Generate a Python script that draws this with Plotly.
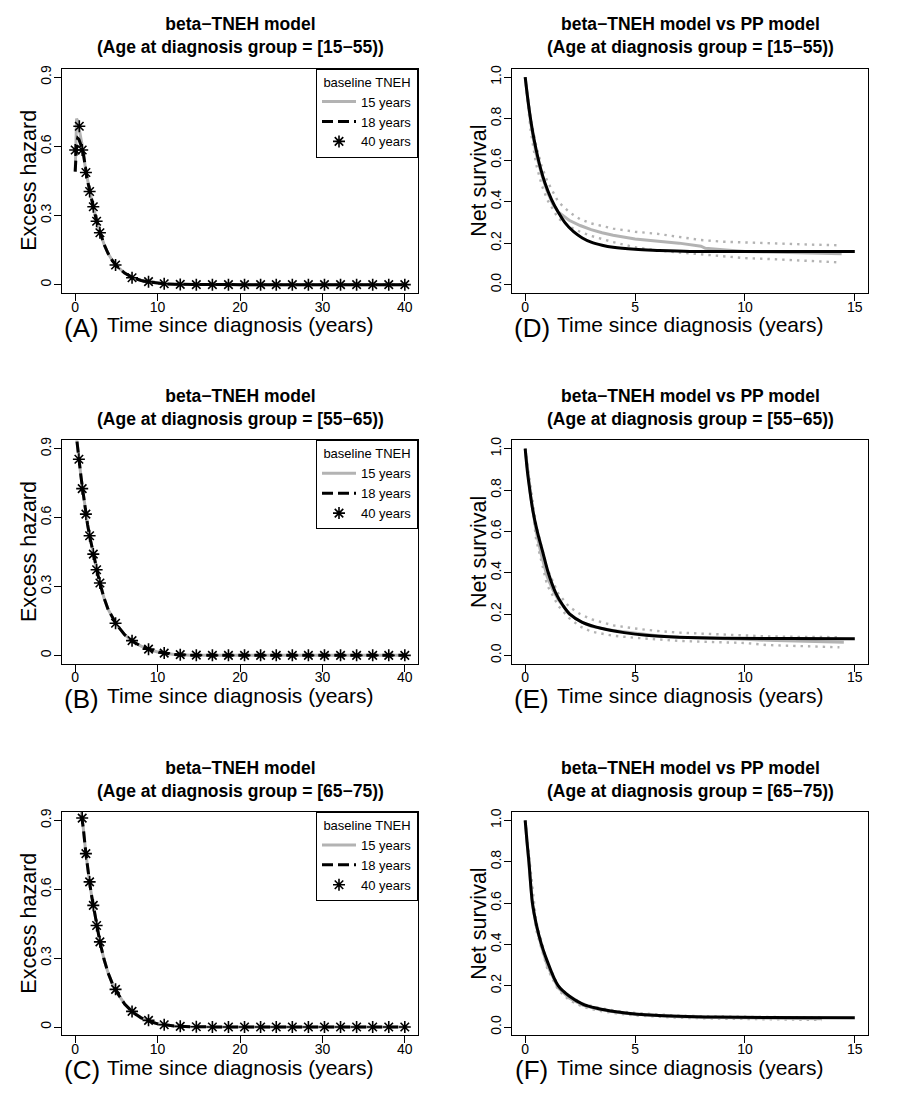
#!/usr/bin/env python3
"""
beta-TNEH model: excess hazard (A-C) and net survival vs PP model (D-F)
"""

import plotly.graph_objects as go
from plotly.subplots import make_subplots

FIG_W = 899
FIG_H = 1117
FONT = "Liberation Sans, Arial, Helvetica, sans-serif"
GRAY = "#b3b3b3"

AGE_GROUPS = ["[15−55)", "[55−65)", "[65−75)"]
HAZ_LETTERS = ["(A)", "(B)", "(C)"]
SURV_LETTERS = ["(D)", "(E)", "(F)"]
LEGEND_LABELS = ["15 years", "18 years", "40 years"]

# ---- excess hazard ----
haz_xticks = [0, 10, 20, 30, 40]
haz_yticks = [0, 0.3, 0.6, 0.9]
haz_yticktext = ["0", "0.3", "0.6", "0.9"]

# panel A  [15-55)
t_a15 = [0, 0.05, 0.1, 0.17, 0.3, 0.5, 0.75, 1.0, 1.25, 1.5, 1.75, 2.0, 2.25, 2.5,
         2.75, 3.0, 3.5, 4.0, 4.5, 5.0, 6.0, 7.0, 8.0, 9.0, 10, 11, 12, 14, 16, 20,
         25, 30, 35, 40]
h_a15 = [0.49, 0.6, 0.68, 0.72, 0.71, 0.67, 0.63, 0.575, 0.5, 0.45, 0.41, 0.365, 0.33,
         0.29, 0.258, 0.228, 0.175, 0.135, 0.105, 0.082, 0.05, 0.03, 0.018, 0.011,
         0.006, 0.003, 0.0015, 0.0005, 0, 0, 0, 0, 0, 0]
t_a18 = [0, 0.05, 0.1, 0.2, 0.3, 0.45, 0.6, 0.8, 1.0, 1.25, 1.5, 1.75, 2.0, 2.25, 2.5,
         2.75, 3.0, 3.5, 4.0, 4.5, 5.0, 6.0, 7.0, 8.0, 9.0, 10, 11, 12, 14, 16, 20,
         25, 30, 35, 40]
h_a18 = [0.49, 0.53, 0.57, 0.62, 0.635, 0.63, 0.615, 0.595, 0.565, 0.5, 0.45, 0.41,
         0.365, 0.33, 0.29, 0.258, 0.228, 0.175, 0.135, 0.105, 0.082, 0.05, 0.03,
         0.018, 0.011, 0.006, 0.003, 0.0015, 0.0005, 0, 0, 0, 0, 0, 0]
t_a40 = [0, 0.5, 0.85, 1.3, 1.75, 2.2, 2.6, 3.0, 4.9, 6.9, 8.9, 10.8, 12.75, 14.7,
         16.65, 18.6, 20.55, 22.5, 24.4, 26.35, 28.3, 30.25, 32.2, 34.15, 36.1, 38.05, 40]
h_a40 = [0.584, 0.687, 0.584, 0.486, 0.404, 0.338, 0.275, 0.225, 0.085, 0.030, 0.013,
         0.004, 0.001, 0, 0, 0, 0, 0, 0, 0, 0, 0, 0, 0, 0, 0, 0]

# panel B  [55-65)  (15 and 18 year baselines overlap)
t_b = [0, 0.2, 0.45, 0.7, 0.9, 1.1, 1.3, 1.5, 1.75, 2.0, 2.2, 2.4, 2.6, 2.8, 3.0, 3.5,
       4.0, 4.5, 5.0, 6.0, 7.0, 8.0, 9.0, 10, 11, 12, 14, 16, 20, 30, 40]
h_b = [1.0, 0.93, 0.85, 0.78, 0.725, 0.67, 0.615, 0.57, 0.52, 0.475, 0.44, 0.405,
       0.373, 0.345, 0.315, 0.25, 0.2, 0.165, 0.135, 0.09, 0.06, 0.04, 0.025, 0.015,
       0.008, 0.004, 0.001, 0, 0, 0, 0]
t_b40 = [0.45, 0.85, 1.3, 1.75, 2.2, 2.6, 3.0, 4.9, 6.9, 8.9, 10.8, 12.75, 14.7,
         16.65, 18.6, 20.55, 22.5, 24.4, 26.35, 28.3, 30.25, 32.2, 34.15, 36.1, 38.05, 40]
h_b40 = [0.854, 0.726, 0.615, 0.521, 0.441, 0.373, 0.315, 0.140, 0.064, 0.027, 0.010,
         0.003, 0.001, 0, 0, 0, 0, 0, 0, 0, 0, 0, 0, 0, 0, 0]

# panel C  [65-75)
t_c = [0.55, 0.7, 0.85, 1.0, 1.3, 1.5, 1.75, 2.0, 2.2, 2.4, 2.6, 2.8, 3.0, 3.5, 4.0,
       4.5, 5.0, 6.0, 7.0, 8.0, 9.0, 10, 11, 12, 14, 16, 20, 30, 40]
h_c = [0.99, 0.95, 0.905, 0.86, 0.755, 0.69, 0.63, 0.57, 0.53, 0.49, 0.445, 0.405,
       0.37, 0.295, 0.235, 0.19, 0.155, 0.1, 0.064, 0.04, 0.025, 0.014, 0.008, 0.004,
       0.001, 0, 0, 0, 0]
t_c40 = [0.85, 1.3, 1.75, 2.2, 2.6, 3.0, 4.9, 6.9, 8.9, 10.8, 12.75, 14.7, 16.65,
         18.6, 20.55, 22.5, 24.4, 26.35, 28.3, 30.25, 32.2, 34.15, 36.1, 38.05, 40]
h_c40 = [0.91, 0.755, 0.632, 0.530, 0.442, 0.371, 0.164, 0.068, 0.029, 0.010, 0.003,
         0.001, 0, 0, 0, 0, 0, 0, 0, 0, 0, 0, 0, 0, 0]

# ---- net survival ----
surv_xticks = [0, 5, 10, 15]
surv_yticks = [0, 0.2, 0.4, 0.6, 0.8, 1.0]
surv_yticktext = ["0.0", "0.2", "0.4", "0.6", "0.8", "1.0"]

# panel D
t_d_mod = [0, 0.1, 0.2, 0.35, 0.5, 0.7, 0.9, 1.2, 1.5, 1.8, 2.2, 2.6, 3.0, 3.5, 4.0,
           5.0, 6.0, 7.5, 10, 12.5, 15]
s_d_mod = [1.0, 0.91, 0.83, 0.73, 0.65, 0.56, 0.49, 0.41, 0.35, 0.30, 0.255, 0.225,
           0.205, 0.19, 0.18, 0.17, 0.165, 0.16, 0.16, 0.16, 0.16]
t_d_pp = [0, 0.25, 0.5, 0.75, 1.0, 1.25, 1.5, 2.0, 2.5, 3.0, 3.5, 4.0, 5.0, 6.0, 7.0,
          8.0, 8.2, 9.0, 10, 11, 12, 13, 14.4]
s_d_pp = [1.0, 0.78, 0.63, 0.53, 0.45, 0.39, 0.35, 0.31, 0.285, 0.265, 0.25, 0.238,
          0.22, 0.21, 0.2, 0.185, 0.175, 0.168, 0.16, 0.157, 0.155, 0.152, 0.149]
t_d_ci = [0, 0.25, 0.5, 0.75, 1.0, 1.5, 2.0, 2.5, 3.0, 4.0, 5.0, 6.0, 7.0, 8.0, 9.0,
          10, 11, 12, 13, 14.2]
s_d_up = [1.0, 0.80, 0.67, 0.57, 0.50, 0.40, 0.35, 0.315, 0.295, 0.27, 0.255, 0.245,
          0.23, 0.215, 0.207, 0.203, 0.2, 0.196, 0.193, 0.19]
s_d_lo = [1.0, 0.74, 0.58, 0.48, 0.41, 0.32, 0.28, 0.255, 0.235, 0.205, 0.18, 0.165,
          0.155, 0.145, 0.135, 0.128, 0.124, 0.12, 0.115, 0.108]

# panel E
t_e_mod = [0, 0.1, 0.21, 0.35, 0.55, 0.8, 1.05, 1.4, 1.7, 2.03, 2.6, 3.5, 4.5, 5.5,
           7, 9, 12, 15]
s_e_mod = [1.0, 0.89, 0.8, 0.7, 0.6, 0.5, 0.4, 0.3, 0.245, 0.2, 0.16, 0.13, 0.11,
           0.097, 0.088, 0.083, 0.081, 0.08]
t_e_pp = [0, 0.25, 0.5, 0.75, 1.0, 1.25, 1.5, 2.0, 2.5, 3.0, 4.0, 5.0, 5.5, 6.0, 7.0,
          8.0, 9.0, 10, 11, 12, 13, 14.5]
s_e_pp = [1.0, 0.77, 0.6, 0.48, 0.38, 0.32, 0.27, 0.2, 0.165, 0.14, 0.12, 0.108,
          0.102, 0.095, 0.088, 0.085, 0.083, 0.078, 0.073, 0.07, 0.066, 0.063]
t_e_ci = [0, 0.5, 1.0, 1.5, 2.0, 2.5, 3.0, 4.0, 5.0, 6.0, 7.0, 8.0, 9.0, 10, 11, 12,
          13, 14.3]
s_e_up = [1.0, 0.63, 0.42, 0.3, 0.235, 0.2, 0.175, 0.145, 0.13, 0.118, 0.11, 0.105,
          0.1, 0.095, 0.092, 0.09, 0.09, 0.088]
s_e_lo = [1.0, 0.56, 0.34, 0.24, 0.18, 0.14, 0.115, 0.095, 0.085, 0.077, 0.07, 0.066,
          0.063, 0.06, 0.05, 0.047, 0.043, 0.039]

# panel F
t_f_mod = [0, 0.08, 0.17, 0.33, 0.5, 0.74, 1.0, 1.5, 2.0, 2.64, 3.3, 4.15, 5.0, 5.67,
           7.0, 8.7, 11, 15]
s_f_mod = [1.0, 0.9, 0.8, 0.6, 0.5, 0.4, 0.32, 0.2, 0.15, 0.11, 0.09, 0.074, 0.063,
           0.058, 0.052, 0.048, 0.046, 0.045]
t_f_pp = [0, 0.17, 0.33, 0.5, 0.74, 1.0, 1.5, 2.0, 2.64, 3.3, 4.15, 5.0, 6.0, 7.0,
          8.7, 11, 13.5]
s_f_pp = [1.0, 0.79, 0.59, 0.49, 0.39, 0.3, 0.19, 0.14, 0.105, 0.087, 0.072, 0.062,
          0.055, 0.05, 0.046, 0.043, 0.04]
t_f_ci = [0, 0.5, 1.0, 1.5, 2.0, 2.64, 3.3, 4.15, 5.0, 6.0, 7.0, 8.7, 11, 13.5]
s_f_up = [1.0, 0.51, 0.315, 0.2, 0.15, 0.113, 0.094, 0.078, 0.068, 0.06, 0.055,
          0.051, 0.048, 0.046]
s_f_lo = [1.0, 0.47, 0.285, 0.18, 0.13, 0.097, 0.08, 0.066, 0.056, 0.05, 0.045,
          0.041, 0.038, 0.034]

# plot boxes in pixels (left, top, right, bottom)
COL_X = [(62, 418), (512, 868)]
ROW_Y = [(65, 290), (438, 662), (811, 1035)]


def px(x):
    return x / FIG_W


def py(y):
    return 1 - y / FIG_H


def add_hazard(fig, row, t15, h15, t18, h18, t40, h40):
    """三條基線 TNEH 曲線"""
    leg = "legend" if row == 1 else f"legend{row}"
    fig.add_trace(go.Scatter(x=t15, y=h15, mode="lines", name=LEGEND_LABELS[0],
                             line=dict(color=GRAY, width=3), legend=leg),
                  row=row, col=1)
    fig.add_trace(go.Scatter(x=t18, y=h18, mode="lines", name=LEGEND_LABELS[1],
                             line=dict(color="black", width=3, dash="11px,5px"),
                             legend=leg),
                  row=row, col=1)
    fig.add_trace(go.Scatter(x=t40, y=h40, mode="markers", name=LEGEND_LABELS[2],
                             marker=dict(symbol="asterisk-open", size=10, color="black",
                                         line=dict(color="black", width=1.6)),
                             legend=leg),
                  row=row, col=1)


def add_survival(fig, row, t_mod, s_mod, t_pp, s_pp, t_ci, s_up, s_lo):
    """模型淨生存 vs PP 估計 (含信賴區間)"""
    for s in (s_up, s_lo):
        fig.add_trace(go.Scatter(x=t_ci, y=s, mode="lines", showlegend=False,
                                 line=dict(color=GRAY, width=2.4, dash="2.4px,5px")),
                      row=row, col=2)
    fig.add_trace(go.Scatter(x=t_pp, y=s_pp, mode="lines", showlegend=False,
                             line=dict(color=GRAY, width=3)),
                  row=row, col=2)
    fig.add_trace(go.Scatter(x=t_mod, y=s_mod, mode="lines", showlegend=False,
                             line=dict(color="black", width=3, shape="spline")),
                  row=row, col=2)


def main():
    fig = make_subplots(rows=3, cols=2)

    add_hazard(fig, 1, t_a15, h_a15, t_a18, h_a18, t_a40, h_a40)
    add_hazard(fig, 2, t_b, h_b, t_b, h_b, t_b40, h_b40)
    add_hazard(fig, 3, t_c, h_c, t_c, h_c, t_c40, h_c40)

    add_survival(fig, 1, t_d_mod, s_d_mod, t_d_pp, s_d_pp, t_d_ci, s_d_up, s_d_lo)
    add_survival(fig, 2, t_e_mod, s_e_mod, t_e_pp, s_e_pp, t_e_ci, s_e_up, s_e_lo)
    add_survival(fig, 3, t_f_mod, s_f_mod, t_f_pp, s_f_pp, t_f_ci, s_f_up, s_f_lo)

    annotations = []
    common_axis = dict(showline=True, mirror=True, linecolor="black", linewidth=1,
                       ticks="outside", ticklen=7, tickwidth=1, tickcolor="black",
                       showgrid=False, zeroline=False,
                       tickfont=dict(family=FONT, size=14, color="black"))
    for r in range(3):
        top, bottom = ROW_Y[r]
        for c in range(2):
            left, right = COL_X[c]
            n = r * 2 + c + 1
            xa = "xaxis" if n == 1 else f"xaxis{n}"
            ya = "yaxis" if n == 1 else f"yaxis{n}"
            if c == 0:
                xcfg = dict(range=[-1.6, 41.6], tickvals=haz_xticks)
                ycfg = dict(range=[-0.036, 0.936], tickvals=haz_yticks,
                            ticktext=haz_yticktext)
                title = "<b>beta−TNEH model</b>"
                ytitle = "Excess hazard"
                letter = HAZ_LETTERS[r]
            else:
                xcfg = dict(range=[-0.6, 15.6], tickvals=surv_xticks)
                ycfg = dict(range=[-0.04, 1.04], tickvals=surv_yticks,
                            ticktext=surv_yticktext)
                title = "<b>beta−TNEH model vs PP model</b>"
                ytitle = "Net survival"
                letter = SURV_LETTERS[r]
            fig.layout[xa].update(domain=[px(left), px(right)], ticklabelstandoff=-6,
                                  **xcfg, **common_axis)
            fig.layout[ya].update(domain=[py(bottom), py(top)], tickangle=-90,
                                  ticklabelstandoff=-3, **ycfg, **common_axis)

            cx = px((left + right) / 2)
            annotations.append(dict(
                text=f"{title}<br><b>(Age at diagnosis group = {AGE_GROUPS[r]})</b>",
                x=cx, y=py(top - 33), xref="paper", yref="paper",
                xanchor="center", yanchor="middle", showarrow=False,
                font=dict(family=FONT, size=17.5, color="black")))
            annotations.append(dict(
                text="Time since diagnosis (years)", x=cx, y=py(bottom + 32),
                xref="paper", yref="paper", xanchor="center", yanchor="middle",
                showarrow=False, font=dict(family=FONT, size=21, color="black")))
            annotations.append(dict(
                text=ytitle, x=px(left - 33), y=py((top + bottom) / 2),
                xref="paper", yref="paper", xanchor="center", yanchor="middle",
                textangle=-90, showarrow=False,
                font=dict(family=FONT, size=21.5, color="black")))
            annotations.append(dict(
                text=letter, x=px(left + 19.5), y=py(bottom + 35),
                xref="paper", yref="paper", xanchor="center", yanchor="middle",
                showarrow=False, font=dict(family=FONT, size=26, color="black")))

    # legends in the hazard panels
    legends = {}
    for r in range(3):
        key = "legend" if r == 0 else f"legend{r + 1}"
        legends[key] = dict(
            x=px(COL_X[0][1]), xanchor="right", y=py(ROW_Y[r][0]), yanchor="top",
            bgcolor="white", bordercolor="black", borderwidth=1,
            font=dict(family=FONT, size=13, color="black"),
            title=dict(text="baseline TNEH", side="top center",
                       font=dict(family=FONT, size=13, color="black")),
            itemwidth=34, tracegroupgap=0, traceorder="normal")

    fig.update_layout(
        width=FIG_W, height=FIG_H,
        margin=dict(l=0, r=0, t=0, b=0),
        paper_bgcolor="white", plot_bgcolor="white",
        font=dict(family=FONT, color="black"),
        annotations=annotations,
        showlegend=True,
        **legends,
    )

    # page body margin would shift the figure by 8px
    fig.write_html("out.html", config={"displayModeBar": False},
                   post_script="document.body.style.margin='0px';")


if __name__ == "__main__":
    main()
